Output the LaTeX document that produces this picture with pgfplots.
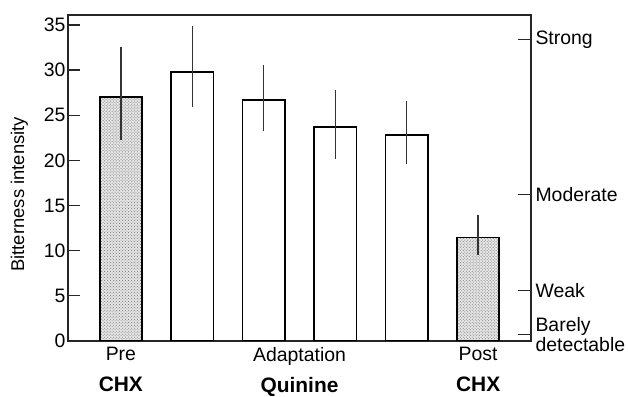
\documentclass[border=0pt]{standalone}
\usepackage{fontspec}
\setmainfont{Liberation Sans}
\usepackage{pgfplots}
\pgfplotsset{compat=1.18}
\usetikzlibrary{calc,patterns}
\newcommand{\bl}[1]{{\fontsize{21}{23}\selectfont\bfseries #1}}
\begin{document}
\begin{tikzpicture}
\begin{axis}[name=ax, scale only axis, width=463bp, height=326bp,
  xmin=-0.74, xmax=5.74, ymin=0, ymax=36.1,
  axis line style={line width=1.2bp, black!85},
  ytick={0,5,...,35}, ytick pos=left, tick align=inside,
  major tick length=12bp, y tick style={line width=1.2bp, black!85},
  xtick={0,2.5,5},
  xticklabels={{Pre\\[8pt]\bl{CHX}},{Adaptation\\[8pt]\bl{Quinine}},{Post\\[8pt]\bl{CHX}}},
  x tick style={draw=none},
  xticklabel style={align=center, font=\fontsize{19.5}{23}\selectfont, yshift=-3bp},
  yticklabel style={font=\fontsize{19.5}{22}\selectfont, xshift=1bp},
  /pgf/number format/assume math mode=true,
  ylabel={Bitterness intensity},
  ylabel style={font=\fontsize{18.5}{21}\selectfont, at={(axis description cs:-0.105,0.45)}, anchor=center},
]
\addplot[ybar, bar width=0.59, bar shift=0pt, draw=black, line width=1.6bp, fill=black!10,
  postaction={pattern=crosshatch dots, pattern color=black!55},
  error bars/.cd, y dir=both, y explicit, error mark=none, error bar style={line width=1.3bp, black!80}]
  coordinates {(0,27.05) += (0,5.55) -= (0,4.75) (5,11.45) += (0,2.55) -= (0,1.95)};
\addplot[ybar, bar width=0.59, bar shift=0pt, draw=black, line width=1.6bp, fill=white,
  error bars/.cd, y dir=both, y explicit, error mark=none, error bar style={line width=1.3bp, black!80}]
  coordinates {(1,29.8) += (0,5.1) -= (0,3.9) (2,26.7) += (0,3.9) -= (0,3.5)
               (3,23.7) += (0,4.1) -= (0,3.5) (4,22.8) += (0,3.8) -= (0,3.2)};
\end{axis}
\begin{axis}[at={(ax.south west)}, anchor=south west, scale only axis, width=463bp, height=326bp,
  xmin=-0.74, xmax=5.74, ymin=0, ymax=36.1,
  hide x axis, axis y line*=right,
  axis line style={line width=1.2bp, black!85},
  tick align=inside, major tick length=13bp, y tick style={line width=1.2bp, black!85},
  ytick={0.74,5.6,16.2,33.4},
  yticklabels={{Barely\\detectable},Weak,Moderate,Strong},
  yticklabel style={align=left, anchor=west, font=\fontsize{19.5}{20}\selectfont, xshift=1bp},
]
\addplot[draw=none] coordinates {(0,0)};
\end{axis}
\pgfresetboundingbox
\path ($(ax.south west)+(-68bp,-56bp)$) rectangle ($(ax.north east)+(97bp,15bp)$);
\end{tikzpicture}
\end{document}
